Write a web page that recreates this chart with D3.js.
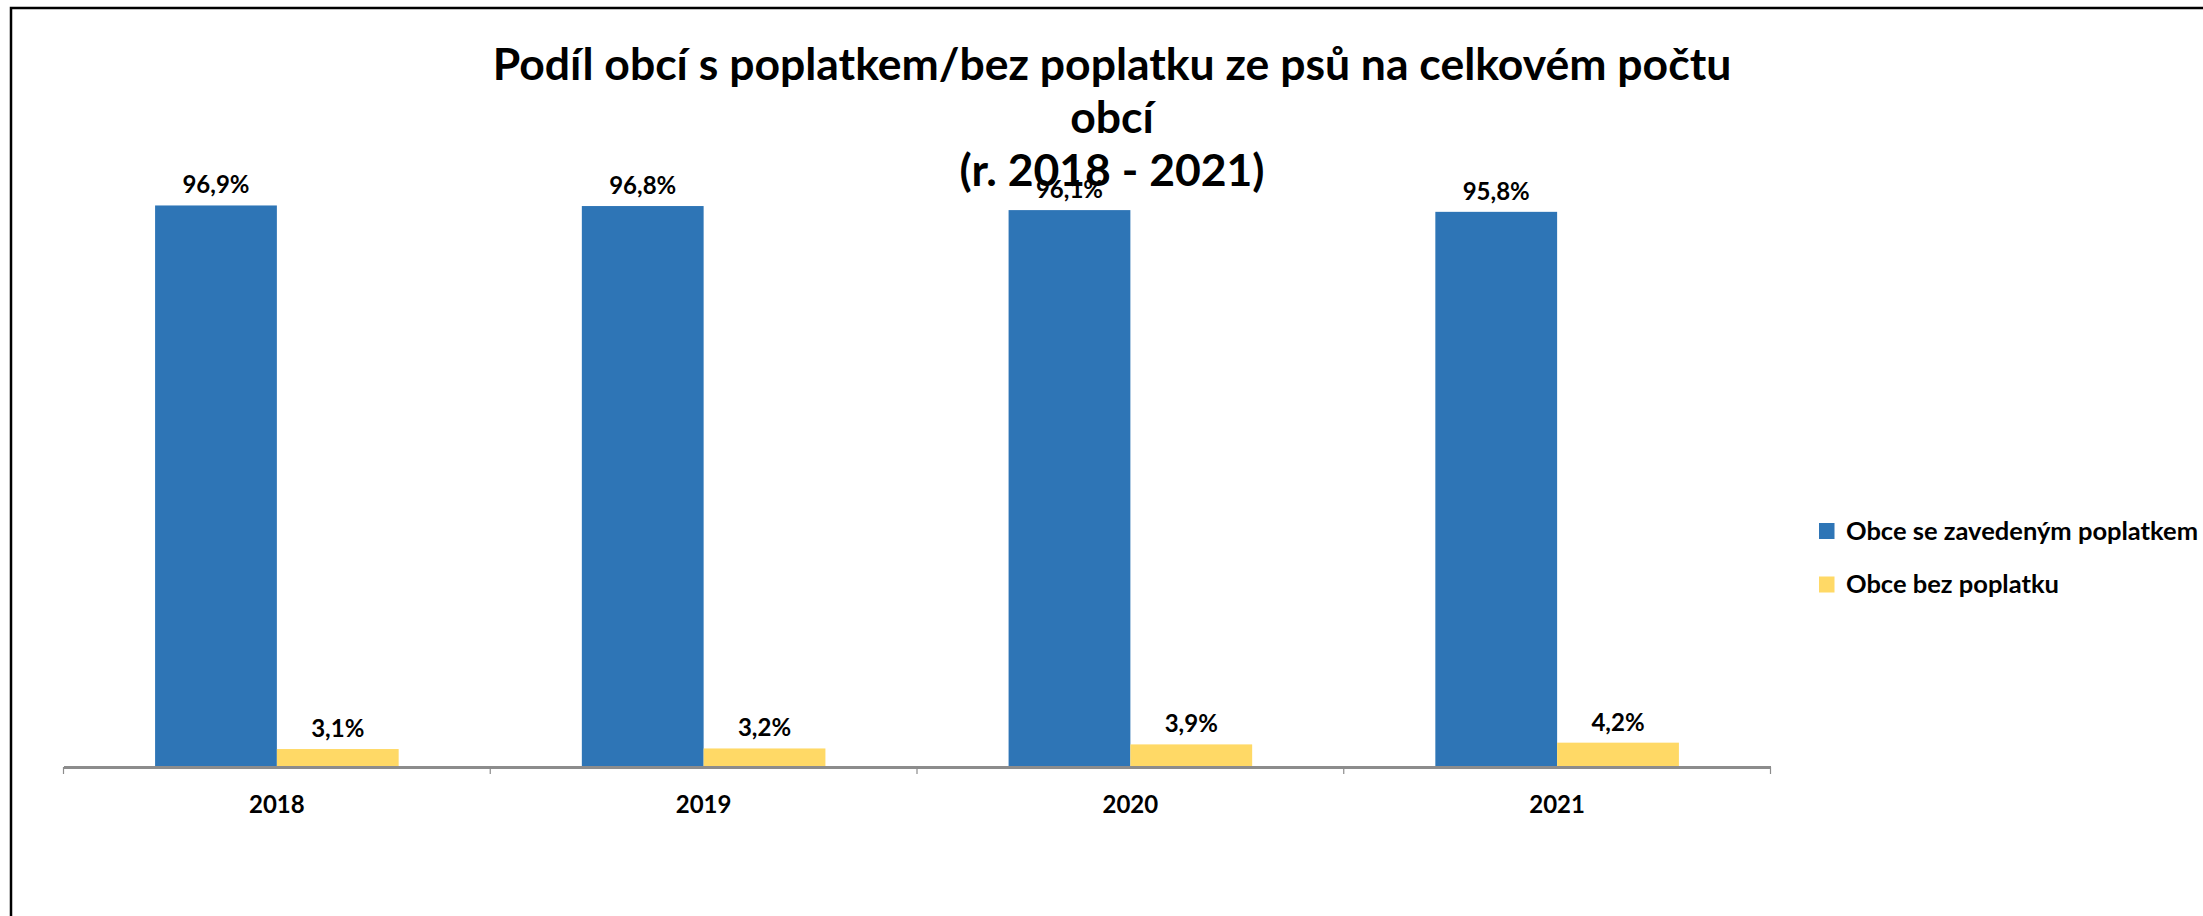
<!DOCTYPE html>
<html>
<head>
<meta charset="utf-8">
<script src="https://cdn.jsdelivr.net/npm/d3@7"></script>
<style>
  html, body { margin: 0; padding: 0; background: #fff; }
  svg { display: block; }
  text { font-family: Lato, "Open Sans", sans-serif; font-weight: bold; fill: #000; }
</style>
</head>
<body>
<svg id="chart" width="2203" height="916"></svg>
<script>
const categories = ["2018", "2019", "2020", "2021"];
const seriesNames = ["Obce se zavedeným poplatkem", "Obce bez poplatku"];
const withFee = [96.9, 96.8, 96.1, 95.8];
const withoutFee = [3.1, 3.2, 3.9, 4.2];
const titleLines = ["Podíl obcí s poplatkem/bez poplatku ze psů na celkovém počtu", "obcí", "(r. 2018 - 2021)"];
const colors = ["#2E75B6", "#FFD966"];

const series = [withFee, withoutFee];
const fmt = v => d3.format(".1f")(v).replace(".", ",") + "%";

const svg = d3.select("#chart");

// outer frame
svg.append("rect")
  .attr("x", 11).attr("y", 8).attr("width", 2400).attr("height", 1200)
  .attr("fill", "none").attr("stroke", "#000").attr("stroke-width", 2.5);

const x0 = d3.scaleBand().domain(categories).range([63.5, 1770.5]).padding(0);
const x1 = d3.scaleBand().domain([0, 1]).range([0, x0.bandwidth()]).paddingInner(0).paddingOuter(0.752);
const y = d3.scaleLinear().domain([0, 120]).range([767, 767 - 120 * 5.795]);

// bars
const groups = svg.append("g").selectAll("g")
  .data(categories).join("g")
  .attr("transform", d => `translate(${x0(d)},0)`);

groups.selectAll("rect")
  .data((d, i) => series.map((s, k) => ({k, v: s[i]})))
  .join("rect")
  .attr("x", d => x1(d.k))
  .attr("width", x1.bandwidth())
  .attr("y", d => y(d.v))
  .attr("height", d => y(0) - y(d.v) + 2)
  .attr("fill", d => colors[d.k]);

// axis
const axis = d3.axisBottom(x0).tickSize(0).tickFormat("");
const ag = svg.append("g").attr("transform", `translate(0,${y(0)})`).call(axis);
ag.select(".domain").attr("stroke", "#8c8c8c").attr("stroke-width", 3);
// boundary ticks
const edges = categories.map(c => x0(c)).concat([x0.range()[1]]);
ag.selectAll("line.edge").data(edges).join("line")
  .attr("class", "edge")
  .attr("x1", d => d).attr("x2", d => d)
  .attr("y1", 0).attr("y2", 7)
  .attr("stroke", "#8c8c8c").attr("stroke-width", 1.2);

// category labels
svg.append("g").selectAll("text")
  .data(categories).join("text")
  .attr("x", d => x0(d) + x0.bandwidth() / 2)
  .attr("y", 813)
  .attr("text-anchor", "middle")
  .attr("font-size", 24)
  .text(d => d);

// title
svg.append("g").selectAll("text")
  .data(titleLines).join("text")
  .attr("x", 1112)
  .attr("y", (d, i) => 80 + i * 53)
  .attr("text-anchor", "middle")
  .attr("font-size", 44.5)
  .text(d => d);

// data labels
groups.selectAll("text")
  .data((d, i) => series.map((s, k) => ({k, v: s[i]})))
  .join("text")
  .attr("x", d => x1(d.k) + x1.bandwidth() / 2)
  .attr("y", d => y(d.v) - 12)
  .attr("text-anchor", "middle")
  .attr("font-size", 24)
  .text(d => fmt(d.v));

// legend
const lg = svg.append("g").selectAll("g")
  .data(seriesNames).join("g")
  .attr("transform", (d, i) => `translate(1819,${523 + i * 53.5})`);
lg.append("rect").attr("width", 15.5).attr("height", 16)
  .attr("fill", (d, i) => colors[i]);
lg.append("text").attr("x", 27).attr("y", 16.5)
  .attr("font-size", 25.5)
  .text(d => d);
</script>
</body>
</html>
